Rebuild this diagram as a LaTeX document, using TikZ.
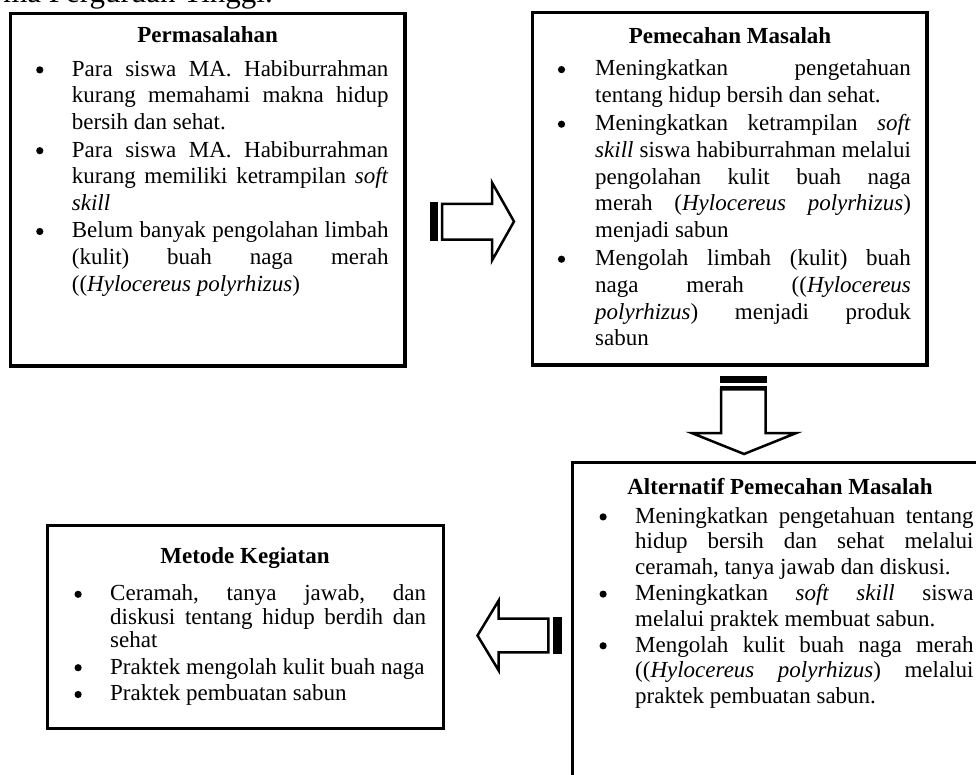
\documentclass[tikz,border=0pt]{standalone}
\usepackage{fontspec}
\setmainfont{Liberation Serif}
\tikzset{
  box/.style={draw=black, line width=3.2pt, inner sep=0pt},
  ttl/.style={font=\bfseries\fontsize{23}{27}\selectfont, inner sep=0pt, anchor=base},
  body/.style={inner sep=0pt, anchor=base west},
  barrow/.style={draw=black, fill=white, line width=2.5pt, line join=miter},
  stripe/.style={fill=black, draw=none},
}
\newcommand{\mybul}{\tikz[baseline=0pt,x=1pt,y=1pt]\fill[black] (3.6,6.4) circle[radius=3.6];}
\newenvironment{blist}[3]{%
  \fontsize{23}{#1}\selectfont\frenchspacing
  \tolerance=10000\hbadness=10000\hyphenpenalty=10000\exhyphenpenalty=10000
  \begin{list}{\mybul}{%
    \setlength{\leftmargin}{#3}\setlength{\labelwidth}{#3}\setlength{\labelsep}{0pt}%
    \setlength{\itemsep}{#2}\setlength{\parsep}{0pt}\setlength{\topsep}{0pt}%
    \setlength{\partopsep}{0pt}\def\makelabel##1{##1\hfil}}}%
  {\end{list}}
\begin{document}
\begin{tikzpicture}[x=1pt,y=-1pt]
\useasboundingbox (0,0) rectangle (976,775);
\clip (0,0) rectangle (976,775);

\node[font=\fontsize{31}{36}\selectfont, anchor=base east, inner sep=0pt] (hdr) at (273,2.6) {ma Perguruan Tinggi.};

% boxes
\node[box, minimum width=394.5pt, minimum height=352.2pt] (p1) at (207.75,189.9) {};
\node[box, minimum width=394.3pt, minimum height=352.3pt] (p2) at (729.85,188.85) {};
\node[box, minimum width=415pt, minimum height=337.5pt] (p3) at (780,631.25) {};
\node[box, minimum width=395.8pt, minimum height=202.6pt] (p4) at (245.4,627) {};

% titles
\node[ttl] (t1) at (207.7,42.5) {Permasalahan};
\node[ttl] (t2) at (730,43.5) {Pemecahan Masalah};
\node[ttl] (t3) at (780,494) {Alternatif Pemecahan Masalah};
\node[ttl] (t4) at (245,563.3) {Metode Kegiatan};

% bodies
\node[body] (b1) at (36,76.3) {\begin{minipage}[t]{352.3pt}\begin{blist}{26.6pt}{1pt}{35.7pt}
\item Para siswa MA. Habiburrahman\linebreak kurang memahami makna hidup\linebreak bersih dan sehat.
\item Para siswa MA. Habiburrahman\linebreak kurang memiliki ketrampilan \textit{soft}\linebreak \textit{skill}
\item Belum banyak pengolahan limbah\linebreak (kulit) buah naga merah\linebreak ((\textit{Hylocereus polyrhizus})
\end{blist}\end{minipage}};

\node[body] (b2) at (557.7,76) {\begin{minipage}[t]{353pt}\begin{blist}{26.8pt}{1pt}{37.3pt}
\item Meningkatkan pengetahuan\linebreak tentang hidup bersih dan sehat.
\item Meningkatkan ketrampilan \textit{soft}\linebreak \textit{skill} siswa habiburrahman melalui\linebreak pengolahan kulit buah naga\linebreak merah (\textit{Hylocereus polyrhizus})\linebreak menjadi sabun
\item Mengolah limbah (kulit) buah\linebreak naga merah ((\textit{Hylocereus}\linebreak \textit{polyrhizus}) menjadi produk\linebreak sabun
\end{blist}\end{minipage}};

\node[body] (b3) at (599.3,523.3) {\begin{minipage}[t]{374pt}\begin{blist}{25.5pt}{0.7pt}{35.7pt}
\item Meningkatkan pengetahuan tentang\linebreak hidup bersih dan sehat melalui\linebreak ceramah, tanya jawab dan diskusi.
\item Meningkatkan \textit{soft skill} siswa\linebreak melalui praktek membuat sabun.
\item Mengolah kulit buah naga merah\linebreak ((\textit{Hylocereus polyrhizus}) melalui\linebreak praktek pembuatan sabun.
\end{blist}\end{minipage}};

\node[body] (b4) at (74.3,600.7) {\begin{minipage}[t]{351.5pt}\begin{blist}{23.3pt}{3.5pt}{35.7pt}
\item Ceramah, tanya jawab, dan\linebreak diskusi tentang hidup berdih dan\linebreak sehat
\item Praktek mengolah kulit buah naga
\item Praktek pembuatan sabun
\end{blist}\end{minipage}};

% right arrow
\fill[stripe] (430,201.7) rectangle (438.3,241);
\draw[barrow] (442,204) -- (492,204) -- (492,182.5) -- (514,221.5) -- (492,260.5) -- (492,239.7) -- (442,239.7) -- cycle;

% down arrow
\fill[stripe] (719.8,376) rectangle (766.7,383.3);
\fill[stripe] (719.8,385.7) rectangle (766.7,389);
\draw[barrow] (721,389.3) -- (721,433) -- (691.7,433) -- (744,454) -- (796.3,433) -- (765.5,433) -- (765.5,389.3) -- cycle;

% left arrow
\fill[stripe] (552.7,617.3) rectangle (561.7,653.7);
\draw[barrow] (548.3,618.7) -- (498.7,618.7) -- (498.7,600.5) -- (477.5,635.5) -- (498.7,670.5) -- (498.7,652.3) -- (548.3,652.3) -- cycle;
\end{tikzpicture}
\end{document}
